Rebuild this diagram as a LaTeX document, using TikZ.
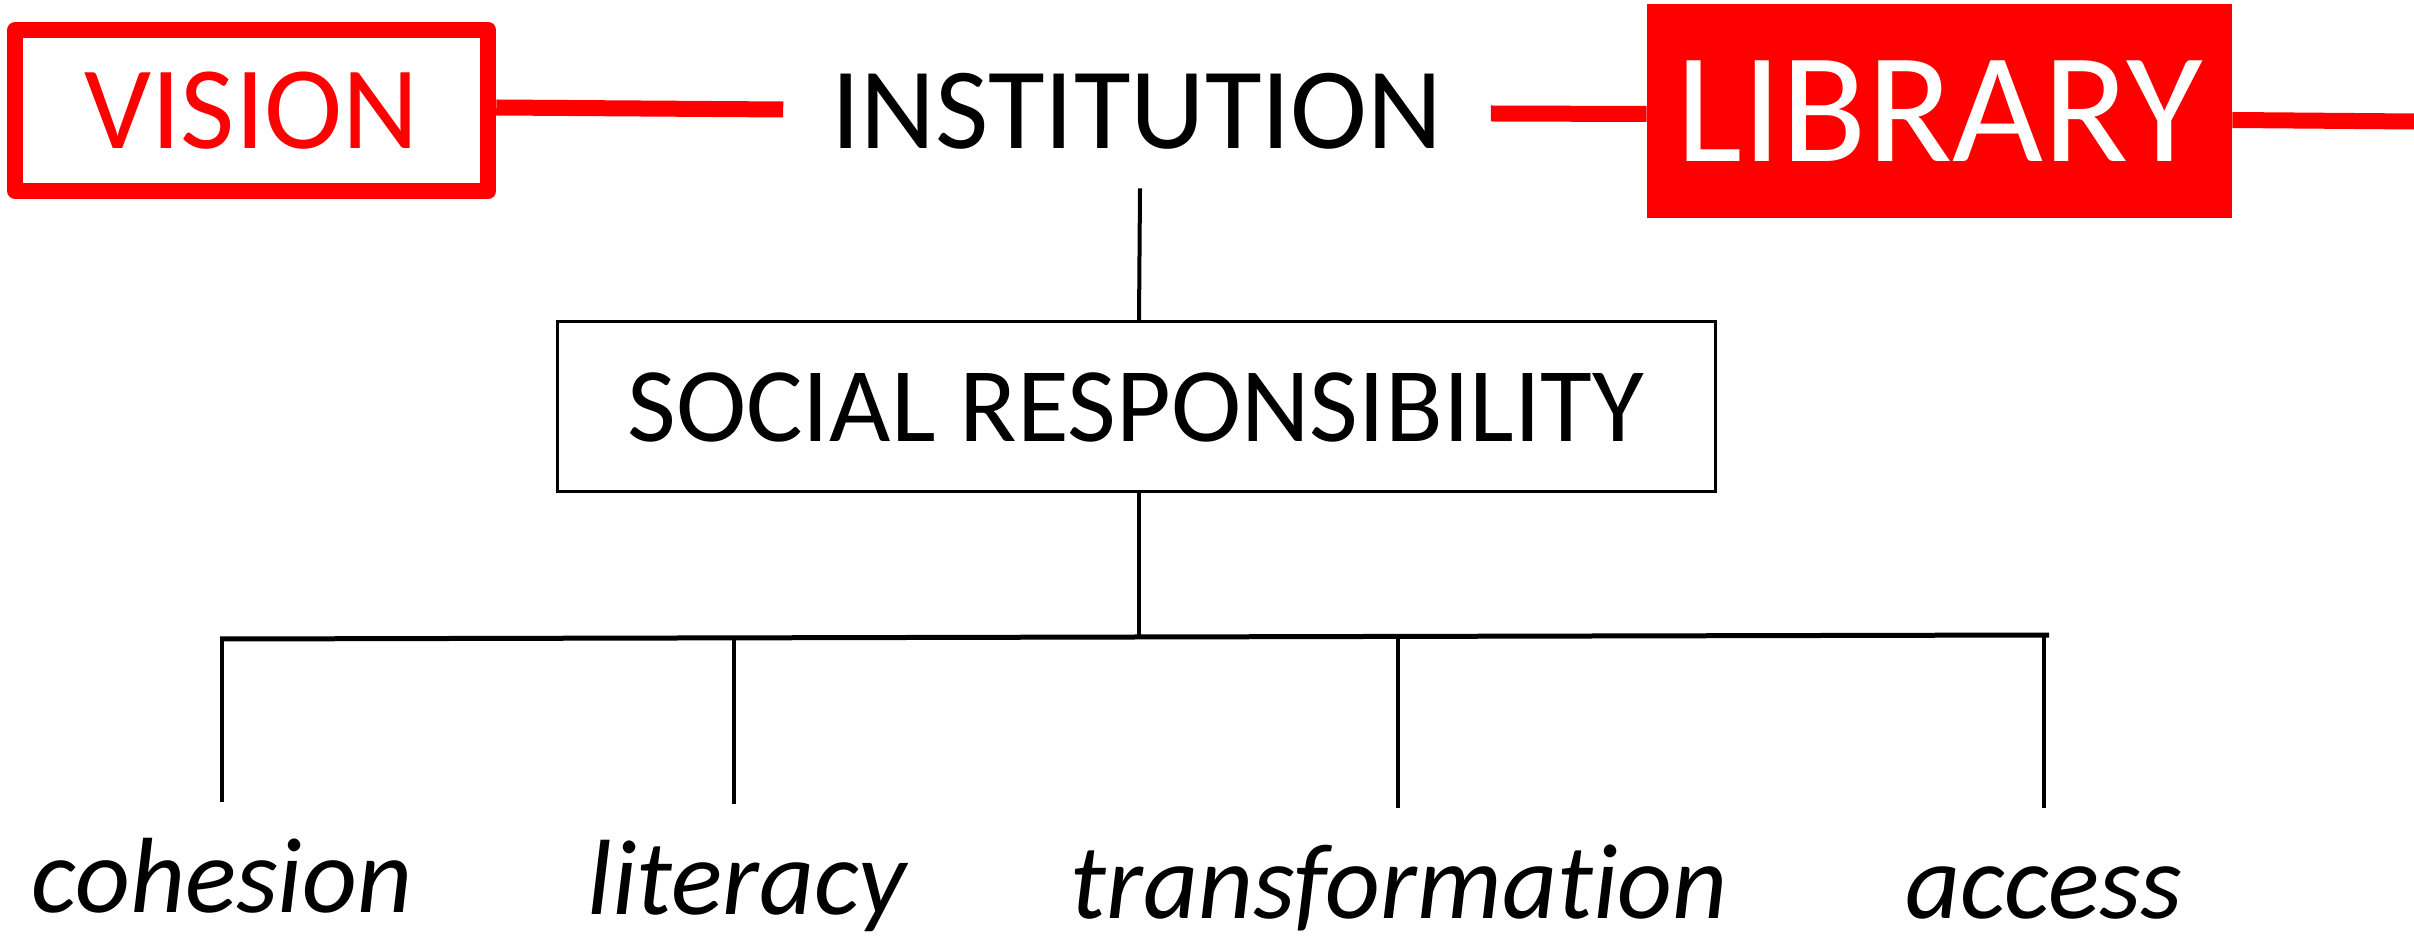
\documentclass[tikz,border=0pt]{standalone}
\usepackage{fontspec}
\setmainfont{Carlito}[Ligatures=NoCommon]
\begin{document}
\begin{tikzpicture}[x=0.5pt,y=-0.5pt,
  redline/.style={draw=red,line width=8pt},
  blk/.style={draw=black,line width=2pt},
  bar/.style={draw=black,line width=2.5pt},
  lbl/.style={font=\fontsize{53.5}{60}\selectfont\itshape, anchor=base, inner xsep=0pt, inner ysep=0pt, text height=55pt, text depth=0pt}]
\useasboundingbox (0,0) rectangle (2414,940);
% top row
\node[draw=red, line width=8pt, line join=round, minimum width=236.5pt, minimum height=80.5pt,
      inner sep=0pt, text=red, font=\fontsize{59}{60}\selectfont] (vision) at (251.75,110.5) {VISION};
\node[anchor=base, inner xsep=24pt, inner ysep=19.5pt, text height=37.5pt, text depth=0pt,
      font=\fontsize{58}{60}\selectfont] (inst) at (1137,149) {INSTITUTION};
\node[fill=red, minimum width=292.5pt, minimum height=107pt, inner sep=0pt, text=white,
      font=\fontsize{78.5}{80}\selectfont] (lib) at (1939.5,111) {LIBRARY};
\coordinate (edge) at (2414,121.5);
\draw[redline] ([yshift=1.5pt]vision.east) -- ([yshift=1pt]inst.west);
\draw[redline] ([yshift=-1pt]inst.east) -- ([yshift=-1.5pt]lib.west);
\draw[redline] ([yshift=-4.5pt]lib.east) -- (edge);
% social responsibility
\node[draw=black, line width=1.5pt, minimum width=579pt, minimum height=85pt, inner sep=0pt,
      font=\fontsize{53}{60}\selectfont] (sr) at (1136,407) {SOCIAL RESPONSIBILITY};
\draw[blk] ([xshift=1.5pt]inst.south) -- ([xshift=1.5pt]sr.north);
% bar
\coordinate (bl) at (220,639);
\coordinate (br) at (2049,635);
\coordinate (bm) at (1139,637);
\draw[blk] ([xshift=1.5pt]sr.south) -- (bm);
\draw[bar] (bl) -- (br);
% labels
\node[lbl] (coh) at (222,912) {cohesion};
\node[lbl] (lit) at (747,914) {literacy};
\node[lbl] (tra) at (1399,918) {transformation};
\node[lbl] (acc) at (2044,918) {access};
\coordinate (d1) at (222,637);
\coordinate (d2) at (734,637);
\coordinate (d3) at (1398,636);
\coordinate (d4) at (2044,635);
\draw[blk] (d1) -- (d1 |- coh.north);
\draw[blk] (d2) -- (d2 |- lit.north);
\draw[blk] (d3) -- (d3 |- tra.north);
\draw[blk] (d4) -- (d4 |- acc.north);
\end{tikzpicture}
\end{document}
